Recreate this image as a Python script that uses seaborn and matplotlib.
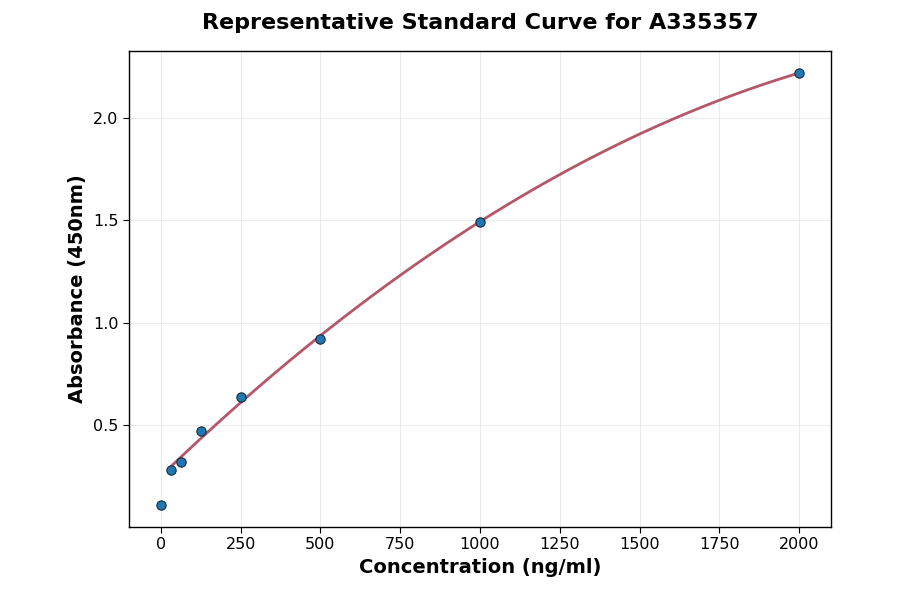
import numpy as np
import pandas as pd
import matplotlib
matplotlib.use("Agg")
import matplotlib.pyplot as plt
import seaborn as sns

concentration = [0, 31.25, 62.5, 125, 250, 500, 1000, 2000]
absorbance = [0.11, 0.28, 0.32, 0.47, 0.64, 0.92, 1.49, 2.22]

sns.set_style("white")
plt.rcParams['font.family'] = ['DejaVu Sans']
plt.rcParams['text.color'] = 'black'
plt.rcParams['axes.labelcolor'] = 'black'
plt.rcParams['xtick.color'] = 'black'
plt.rcParams['ytick.color'] = 'black'

df = pd.DataFrame({"conc": concentration, "abs": absorbance})

# fitted curve from the non-zero standards
fit_df = df[df["conc"] > 0]
coef = np.polyfit(fit_df["conc"], fit_df["abs"], 2)
xs = np.linspace(fit_df["conc"].min(), fit_df["conc"].max(), 300)
curve = pd.DataFrame({"conc": xs, "abs": np.polyval(coef, xs)})

fig, ax = plt.subplots(figsize=(9, 5.94), dpi=100)
fig.subplots_adjust(left=0.1433, right=0.9233, top=0.914, bottom=0.113)

sns.lineplot(data=curve, x="conc", y="abs", ax=ax, color="#b5566a", linewidth=2, zorder=2)
sns.scatterplot(data=df, x="conc", y="abs", ax=ax, color="#1f77b4", edgecolor="#1a2a3a",
                linewidth=0.8, s=45, zorder=3)

ax.grid(True, color="#e6e6e6", linewidth=0.6)
ax.set_axisbelow(True)
for s in ax.spines.values():
    s.set_color("black")
    s.set_linewidth(1.0)
ax.set_xticks([0, 250, 500, 750, 1000, 1250, 1500, 1750, 2000])
ax.set_yticks([0.5, 1.0, 1.5, 2.0])
ax.tick_params(axis="both", labelsize=11.5, length=4, direction="out", color="black",
               labelcolor="black", bottom=True, left=True)
ax.set_xlabel("Concentration (ng/ml)", fontsize=14, fontweight="bold", color="black")
ax.set_ylabel("Absorbance (450nm)", fontsize=14, fontweight="bold", color="black")
ax.set_title("Representative Standard Curve for A335357", fontsize=16, fontweight="bold",
             pad=16, color="black")

fig.savefig("out.png", dpi=100)
